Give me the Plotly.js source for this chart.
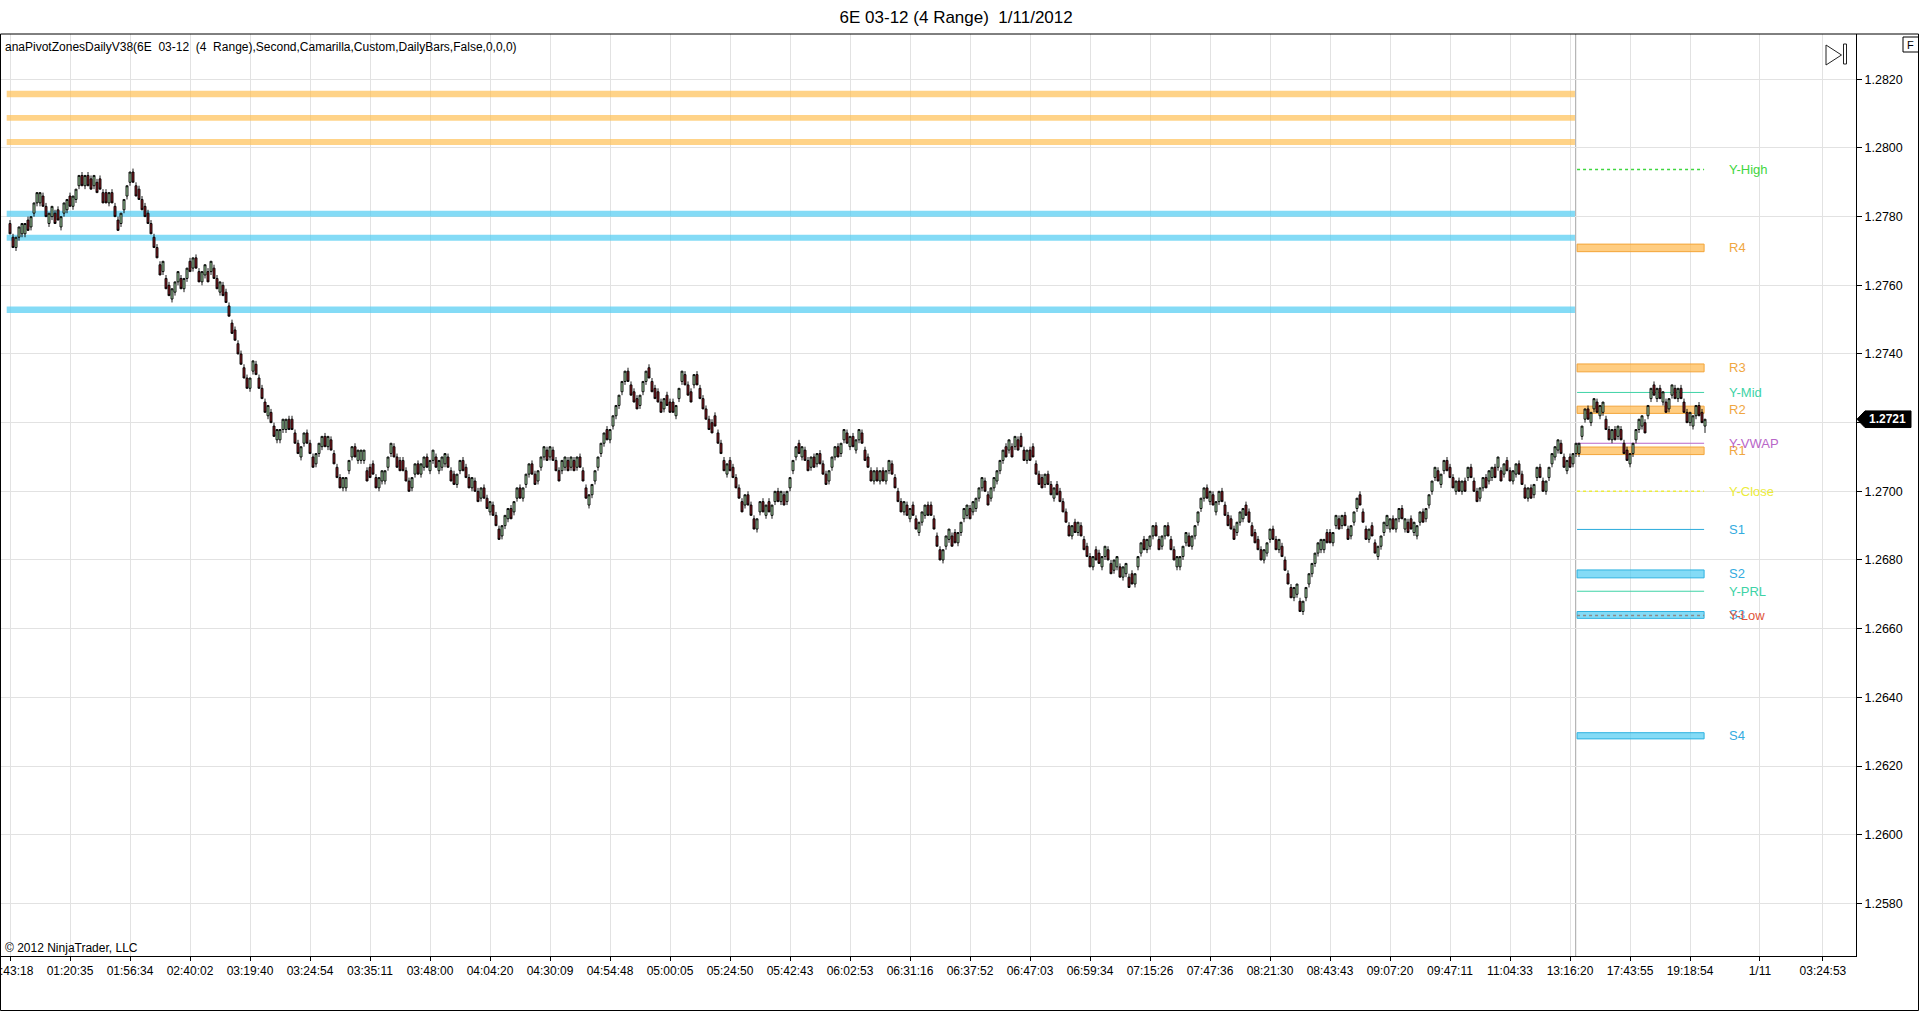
<!DOCTYPE html>
<html>
<head>
<meta charset="utf-8">
<script src="https://cdn.plot.ly/plotly-3.0.1.min.js"></script>
<style>
html,body{margin:0;padding:0;background:#fff;}
#chart{width:1920px;height:1012px;}
</style>
</head>
<body>
<div id="chart"></div>
<script>
// ---------- DATA (prices in pips above 1.2000, i.e. price = 1.2 + v/10000) ----------
const PIP_BASE = 1.2;
const PIP = 0.0001;

const opens = [
778,774,771,774,775,775,779,777,781,784,
784,786,783,778,780,781,782,777,781,782,
786,783,785,789,792,789,792,791,789,790,
791,787,787,784,787,783,779,778,782,786,
790,793,789,788,785,783,781,778,774,771,
766,764,762,760,756,758,761,762,759,762,
767,765,768,764,761,763,764,764,765,762,
758,760,758,754,749,747,743,740,736,733,
730,735,737,733,730,726,722,723,719,715,
715,718,718,721,721,717,714,710,714,717,
714,710,708,711,713,716,713,715,711,707,
704,701,701,706,710,713,709,709,709,706,
707,708,704,701,703,703,707,711,713,710,
709,709,706,703,701,705,708,705,707,710,
706,709,710,706,707,708,710,706,705,702,
706,709,707,704,701,703,700,698,701,698,
694,696,693,689,687,690,692,695,694,698,
701,698,702,705,708,705,703,707,710,712,
710,712,709,706,706,707,709,707,709,707,
710,706,701,696,699,703,707,711,714,718,
715,719,722,725,729,732,735,731,729,727,
725,729,732,736,732,730,729,726,724,728,
726,726,722,727,732,734,731,729,731,734,
730,727,724,721,720,722,717,714,709,705,
709,707,704,701,697,696,699,696,692,689,
694,697,693,697,693,697,700,697,699,697,
701,706,710,714,710,712,709,707,710,708,
711,708,705,703,707,710,713,711,715,717,
713,716,712,715,717,712,710,706,703,706,
703,706,703,706,708,704,700,697,694,696,
692,696,692,688,691,693,696,696,692,687,
683,680,684,686,687,688,685,688,692,693,
695,694,695,698,701,703,699,698,701,703,
706,709,713,712,713,713,715,716,712,709,
712,713,708,705,704,702,705,702,698,702,
700,697,694,690,687,691,688,690,686,684,
681,678,683,682,678,681,683,679,677,678,
678,675,676,675,676,673,678,682,686,683,
684,687,690,686,684,687,690,686,683,678,
678,681,685,687,684,687,691,695,698,701,
697,699,694,697,700,696,693,692,689,688,
691,692,696,694,690,688,686,683,680,682,
686,689,686,683,684,680,676,672,669,670,
668,665,669,673,676,679,682,683,683,688,
688,685,690,692,690,693,689,687,691,695,
699,694,689,686,690,685,681,684,688,690,
689,692,689,692,695,689,691,692,688,687,
691,694,692,696,700,704,706,702,706,709,
707,704,700,703,700,703,704,707,703,700,
698,701,704,703,704,707,707,706,705,709,
706,703,705,708,705,701,698,701,699,704,
707,703,700,704,708,710,712,714,710,706,
710,708,711,711,716,721,724,720,724,726,
722,723,721,718,715,718,716,718,714,712,
708,711,715,718,719,720,722,727,731,727,
730,726,726,724,728,730,727,730,726,723,
720,719,722,725,723,719
];

const highs = [
779,775,774,777,778,778,780,780,784,787,
787,787,784,781,783,782,783,780,784,785,
787,786,788,792,793,792,793,792,792,791,
792,788,788,787,788,784,780,781,785,789,
793,794,790,789,786,784,782,779,775,772,
767,767,763,761,759,761,764,763,762,765,
768,768,769,765,764,766,765,767,766,763,
761,761,759,755,750,748,744,741,737,734,
733,738,738,734,731,727,725,724,720,718,
718,721,721,722,722,718,715,713,717,718,
715,711,711,714,716,717,716,716,712,708,
705,704,704,709,713,714,712,712,712,707,
708,709,705,704,706,706,710,714,714,711,
710,710,707,704,704,708,709,708,710,711,
709,712,711,709,710,711,711,707,706,705,
709,710,708,705,704,704,701,701,702,699,
697,697,694,690,690,693,695,696,697,701,
702,701,705,708,709,706,706,710,713,713,
713,713,710,707,709,710,710,710,710,710,
711,707,702,699,702,706,710,714,717,719,
718,722,725,728,732,735,736,732,730,728,
728,732,735,737,733,731,730,727,727,729,
727,727,725,730,735,735,732,730,734,735,
731,728,725,722,721,723,718,715,710,708,
710,708,705,702,698,699,700,697,693,692,
697,698,696,698,696,700,701,700,700,700,
704,709,713,715,713,713,710,710,711,711,
712,709,706,706,710,713,714,714,718,718,
716,717,715,718,718,713,711,707,706,707,
706,707,706,709,709,705,701,698,697,697,
695,697,693,691,694,696,697,697,693,688,
684,683,687,689,688,689,688,691,695,696,
696,697,698,701,704,704,700,701,704,706,
709,712,714,715,714,716,716,717,713,712,
713,714,709,706,705,705,706,703,701,703,
701,698,695,691,690,692,691,691,687,685,
682,681,684,683,681,684,684,680,680,681,
679,678,679,676,677,676,681,685,687,686,
687,690,691,687,687,690,691,687,684,681,
681,684,688,688,687,690,694,698,701,702,
700,700,697,700,701,697,694,693,690,691,
694,695,697,695,691,689,687,684,683,685,
689,690,687,686,685,681,677,673,672,673,
669,668,672,676,679,682,685,686,686,689,
689,688,693,693,693,694,690,690,694,698,
700,695,690,689,691,686,684,687,691,693,
692,693,692,695,696,692,692,693,691,690,
694,695,695,699,703,707,707,705,709,710,
708,705,703,704,703,704,707,708,704,701,
701,704,705,706,707,708,710,707,708,710,
707,706,708,709,706,702,701,702,702,707,
708,704,703,707,711,713,715,715,711,709,
711,711,714,714,719,724,725,723,727,727,
725,726,722,719,718,719,719,719,715,713,
711,714,718,721,722,721,725,730,732,730,
731,729,727,727,731,731,730,731,727,724,
723,722,725,726,724,721
];

const lows = [
775,771,770,773,774,774,776,776,780,783,
783,783,780,777,779,778,779,776,780,781,
783,782,784,788,789,788,789,788,788,787,
788,784,784,783,784,780,776,777,781,785,
789,790,786,785,782,780,778,775,771,768,
763,763,759,757,755,757,760,759,758,761,
764,764,765,761,760,762,761,763,762,759,
757,757,755,751,746,744,740,737,733,730,
729,734,734,730,727,723,721,720,716,714,
714,717,717,718,718,714,711,709,713,714,
711,707,707,710,712,713,712,712,708,704,
701,700,700,705,709,710,708,708,708,703,
704,705,701,700,702,702,706,710,710,707,
706,706,703,700,700,704,705,704,706,707,
705,708,707,705,706,707,707,703,702,701,
705,706,704,701,700,700,697,697,698,695,
693,693,690,686,686,689,691,692,693,697,
698,697,701,704,705,702,702,706,709,709,
709,709,706,703,705,706,706,706,706,706,
707,703,698,695,698,702,706,710,713,715,
714,718,721,724,728,731,732,728,726,724,
724,728,731,733,729,727,726,723,723,725,
723,723,721,726,731,731,728,726,730,731,
727,724,721,718,717,719,714,711,706,704,
706,704,701,698,694,695,696,693,689,688,
693,694,692,694,692,696,697,696,696,696,
700,705,709,711,709,709,706,706,707,707,
708,705,702,702,706,709,710,710,714,714,
712,713,711,714,714,709,707,703,702,703,
702,703,702,705,705,701,697,694,693,693,
691,693,689,687,690,692,693,693,689,684,
680,679,683,685,684,685,684,687,691,692,
692,693,694,697,700,700,696,697,700,702,
705,708,710,711,710,712,712,713,709,708,
709,710,705,702,701,701,702,699,697,699,
697,694,691,687,686,688,687,687,683,681,
678,677,680,679,677,680,680,676,676,677,
675,674,675,672,673,672,677,681,683,682,
683,686,687,683,683,686,687,683,680,677,
677,680,684,684,683,686,690,694,697,698,
696,696,693,696,697,693,690,689,686,687,
690,691,693,691,687,685,683,680,679,681,
685,686,683,682,681,677,673,669,668,669,
665,664,668,672,675,678,681,682,682,685,
685,684,689,689,689,690,686,686,690,694,
696,691,686,685,687,682,680,683,687,689,
688,689,688,691,692,688,688,689,687,686,
690,691,691,695,699,703,703,701,705,706,
704,701,699,700,699,700,703,704,700,697,
697,700,701,702,703,704,706,703,704,706,
703,702,704,705,702,698,697,698,698,703,
704,700,699,703,707,709,711,711,707,705,
707,707,710,710,715,720,721,719,723,723,
721,722,718,715,714,715,715,715,711,709,
707,710,714,717,718,717,721,726,728,726,
727,725,723,723,727,727,726,727,723,720,
719,718,721,722,720,717
];

const closes = [
775,771,774,777,778,778,776,780,784,787,
787,783,780,781,783,778,779,780,784,785,
783,786,788,792,789,792,789,788,792,787,
788,784,784,787,784,780,776,781,785,789,
793,790,786,785,782,780,778,775,771,768,
763,767,759,757,759,761,764,759,762,765,
764,768,765,761,764,766,761,767,762,759,
761,757,755,751,746,744,740,737,733,730,
733,738,734,730,727,723,725,720,716,718,
718,721,721,718,718,714,711,713,717,714,
711,707,711,714,716,713,716,712,708,704,
701,704,704,709,713,710,712,712,712,703,
704,705,701,704,706,706,710,714,710,707,
706,706,703,700,704,708,705,708,710,707,
709,712,707,709,710,711,707,703,702,705,
709,706,704,701,704,700,697,701,698,695,
697,693,690,686,690,693,695,692,697,701,
698,701,705,708,705,702,706,710,713,709,
713,709,706,703,709,710,706,710,706,710,
707,703,698,699,702,706,710,714,717,715,
718,722,725,728,732,735,732,728,726,724,
728,732,735,733,729,727,726,723,727,725,
723,723,725,730,735,731,728,726,734,731,
727,724,721,718,717,719,714,711,706,708,
706,704,701,698,694,699,696,693,689,692,
697,694,696,694,696,700,697,700,696,700,
704,709,713,711,713,709,706,710,707,711,
708,705,702,706,710,713,710,714,718,714,
716,713,715,718,714,709,707,703,706,703,
706,703,706,709,705,701,697,694,697,693,
695,693,689,691,694,696,693,693,689,684,
680,683,687,689,684,685,688,691,695,696,
692,697,698,701,704,700,696,701,704,706,
709,712,710,715,710,716,712,713,709,712,
709,710,705,702,701,705,702,699,701,699,
697,694,691,687,690,688,691,687,683,681,
678,681,680,679,681,684,680,676,680,681,
675,678,679,672,673,676,681,685,683,686,
687,690,687,683,687,690,687,683,680,681,
681,684,688,684,687,690,694,698,701,698,
700,696,697,700,697,693,690,689,686,691,
694,695,693,691,687,685,683,680,683,685,
689,686,683,686,681,677,673,669,672,673,
665,668,672,676,679,682,685,686,686,685,
685,688,693,689,693,690,686,690,694,698,
696,691,686,689,687,682,684,687,691,693,
692,689,692,695,692,692,688,689,691,690,
694,691,695,699,703,707,703,705,709,706,
704,701,703,700,703,700,707,704,700,697,
701,704,701,706,707,704,710,703,708,706,
703,706,708,705,702,698,701,698,702,707,
704,700,703,707,711,713,715,711,707,709,
707,711,714,714,719,724,721,723,727,723,
725,726,718,715,718,715,719,715,711,709,
711,714,718,721,722,717,725,730,728,730,
727,729,723,727,731,727,730,727,723,720,
723,722,725,722,720,721
];

// first bar of the new (1/11) session
const sessionStart = 522;

// x-axis tick labels (bar index -> time label)
const tickBars = [0,20,40,60,80,100,120,140,160,180,200,220,240,260,280,300,320,340,360,380,400,420,440,460,480,500,520,540,560,583.3,604.3];
const tickLabels = ['00:43:18','01:20:35','01:56:34','02:40:02','03:19:40','03:24:54','03:35:11','03:48:00','04:04:20','04:30:09','04:54:48','05:00:05','05:24:50','05:42:43','06:02:53','06:31:16','06:37:52','06:47:03','06:59:34','07:15:26','07:47:36','08:21:30','08:43:43','09:07:20','09:47:11','11:04:33','13:16:20','17:43:55','19:18:54','1/11','03:24:53'];

// previous-session pivot zones
const prevResLow  = [1.28148, 1.28079, 1.28009];
const prevResHigh = [1.28167, 1.28096, 1.28026];
const prevSupLow  = [1.27800, 1.27730, 1.27519];
const prevSupHigh = [1.27817, 1.27747, 1.27538];

// current-session zones
const zoneNames = ['R4','R3','R2','R1','S2','S3','S4'];
const zoneLow   = [1.27698, 1.27348, 1.27227, 1.27107, 1.26748, 1.26630, 1.26279];
const zoneHigh  = [1.27720, 1.27371, 1.27248, 1.27129, 1.26771, 1.26650, 1.26297];

// current-session single levels
const lineNames  = ['Y-High','Y-Mid','Y-VWAP','Y-Close','S1','Y-PRL','Y-Low'];
const lineValues = [1.27937, 1.27288, 1.27140, 1.27000, 1.26889, 1.26709, 1.26638];

// ---------- STYLES ----------
const FONT = 'Liberation Sans, Arial, sans-serif';
const lineStyle = {
  'Y-High':  {color:'#3fd63f', dash:'dot',   width:1.5, text:'#3fd63f'},
  'Y-Mid':   {color:'#3ed3a6', dash:'solid', width:1,   text:'#3ed3a6'},
  'Y-VWAP':  {color:'#b866c8', dash:'solid', width:1,   text:'#b866c8'},
  'Y-Close': {color:'#ecec3a', dash:'dot',   width:1.5, text:'#ecec3a'},
  'S1':      {color:'#2aabdc', dash:'solid', width:1,   text:'#34acdf'},
  'Y-PRL':   {color:'#3ed3a6', dash:'solid', width:1,   text:'#3ed3a6'},
  'Y-Low':   {color:'#8a8a8a', dash:'dot',   width:1.5, text:'#e0553a'}
};
const resZone = {fill:'rgba(255,186,80,0.72)', line:'#f3a53a', text:'#f0a742'};
const supZone = {fill:'rgba(84,205,242,0.72)', line:'#2eb2e0', text:'#34acdf'};

// ---------- BUILD ----------
const toPrice = v => +(PIP_BASE + v * PIP).toFixed(4);
const xIdx = opens.map((_, i) => i);
const lastIdx = xIdx.length - 1;
const lastClose = toPrice(closes[lastIdx]);

const trace = {
  type: 'candlestick',
  x: xIdx,
  open: opens.map(toPrice),
  high: highs.map(toPrice),
  low: lows.map(toPrice),
  close: closes.map(toPrice),
  increasing: {fillcolor:'#a9dca9', line:{color:'#000000', width:0.9}},
  decreasing: {fillcolor:'#8c1c24', line:{color:'#000000', width:0.9}},
  whiskerwidth: 0,
  hoverinfo: 'skip',
  showlegend: false
};

const shapes = [];
const annotations = [];

// previous session bands
const prevX0 = -1.1, prevX1 = sessionStart - 0.35;
prevResLow.forEach((lo, i) => shapes.push({type:'rect', xref:'x', yref:'y', x0:prevX0, x1:prevX1, y0:lo, y1:prevResHigh[i], fillcolor:'rgba(255,190,80,0.68)', line:{width:0}, layer:'between'}));
prevSupLow.forEach((lo, i) => shapes.push({type:'rect', xref:'x', yref:'y', x0:prevX0, x1:prevX1, y0:lo, y1:prevSupHigh[i], fillcolor:'rgba(84,205,242,0.72)', line:{width:0}, layer:'between'}));

// session separator
shapes.push({type:'line', xref:'x', yref:'paper', x0:sessionStart - 0.1, x1:sessionStart - 0.1, y0:0, y1:1, line:{color:'#a6a6a6', width:1}, layer:'between'});

// current session zones + levels
const curX0 = sessionStart + 0.35, curX1 = lastIdx - 0.3, labelX = lastIdx + 7.2;
zoneNames.forEach((nm, i) => {
  const st = nm[0] === 'R' ? resZone : supZone;
  shapes.push({type:'rect', xref:'x', yref:'y', x0:curX0, x1:curX1, y0:zoneLow[i], y1:zoneHigh[i], fillcolor:st.fill, line:{color:st.line, width:1}, layer:'between'});
  annotations.push({xref:'x', yref:'y', x:labelX, y:(zoneLow[i] + zoneHigh[i]) / 2, text:nm, showarrow:false, xanchor:'left', yanchor:'middle', font:{family:FONT, size:13, color:st.text}});
});
lineNames.forEach((nm, i) => {
  const st = lineStyle[nm];
  shapes.push({type:'line', xref:'x', yref:'y', x0:curX0, x1:curX1, y0:lineValues[i], y1:lineValues[i], line:{color:st.color, width:st.width, dash:st.dash}, layer:'between'});
  annotations.push({xref:'x', yref:'y', x:labelX, y:lineValues[i], text:nm, showarrow:false, xanchor:'left', yanchor:'middle', font:{family:FONT, size:13, color:st.text}});
});

// ---------- CHROME (pixel geometry -> paper coords) ----------
const W = 1920, H = 1012, ML = 0, MR = 64, MT = 34, MB = 56;
const PW = W - ML - MR, PH = H - MT - MB;
const px = v => (v - ML) / PW;
const py = v => (H - MB - v) / PH;

// outer frame
shapes.push({type:'rect', xref:'paper', yref:'paper', x0:px(0.5), x1:px(1918.5), y0:py(1010.5), y1:py(34), line:{color:'#000', width:1}, fillcolor:'rgba(0,0,0,0)', layer:'above'});
// F box
shapes.push({type:'rect', xref:'paper', yref:'paper', x0:px(1903), x1:px(1918.5), y0:py(52), y1:py(37), line:{color:'#000', width:1}, layer:'above'});
annotations.push({xref:'paper', yref:'paper', x:px(1910.7), y:py(44.5), text:'F', showarrow:false, xanchor:'center', yanchor:'middle', font:{family:FONT, size:11, color:'#000'}});
// play-to-end icon
shapes.push({type:'path', xref:'paper', yref:'paper', path:`M ${px(1826)} ${py(45)} L ${px(1841.5)} ${py(55)} L ${px(1826)} ${py(65)} Z`, line:{color:'#222', width:1}, fillcolor:'rgba(0,0,0,0)', layer:'above'});
shapes.push({type:'rect', xref:'paper', yref:'paper', x0:px(1843.5), x1:px(1846.5), y0:py(64), y1:py(44), line:{color:'#222', width:1}, layer:'above'});

// last price marker
const hh = 8.3 / (PH / (1.2833194 - 1.2564663));
shapes.push({type:'path', xref:'paper', yref:'y', path:`M ${px(1857)},${lastClose} L ${px(1865)},${lastClose + hh} L ${px(1911)},${lastClose + hh} L ${px(1911)},${lastClose - hh} L ${px(1865)},${lastClose - hh} Z`, fillcolor:'#000', line:{color:'#000', width:1}, layer:'above'});
annotations.push({xref:'paper', yref:'y', x:px(1888), y:lastClose, text:lastClose.toFixed(4), showarrow:false, xanchor:'center', yanchor:'middle', font:{family:FONT, size:12, color:'#fff', weight:'bold'}});

// indicator caption and copyright
annotations.push({xref:'paper', yref:'paper', x:px(3), y:py(47.5), text:'anaPivotZonesDailyV38(6E\u00a0 03-12\u00a0 (4\u00a0 Range),Second,Camarilla,Custom,DailyBars,False,0,0,0)', showarrow:false, xanchor:'left', yanchor:'middle', font:{family:FONT, size:12, color:'#000'}});
annotations.push({xref:'paper', yref:'paper', x:px(3), y:py(948), text:'\u00a9 2012 NinjaTrader, LLC', showarrow:false, xanchor:'left', yanchor:'middle', font:{family:FONT, size:12, color:'#000'}});

const layout = {
  width: W, height: H,
  margin: {l:ML, r:MR, t:MT, b:MB, pad:0},
  paper_bgcolor: '#fff', plot_bgcolor: '#fff',
  font: {family: FONT, size: 12, color: '#000'},
  title: {text:'6E 03-12 (4 Range)\u00a0 1/11/2012', font:{family:FONT, size:17, color:'#000'}, xref:'container', x:0.498, xanchor:'center', yref:'container', y:1 - 17/H, yanchor:'middle'},
  boxgap: 0.05,
  showlegend: false,
  xaxis: {
    type:'linear', range:[-10/3, (PW - 10)/3], fixedrange:true,
    rangeslider:{visible:false},
    tickmode:'array', tickvals:tickBars, ticktext:tickLabels,
    ticklabeloverflow:'allow',
    showgrid:true, gridcolor:'#e2e2e2', gridwidth:1, zeroline:false,
    showline:true, linecolor:'#000', linewidth:1, mirror:false,
    ticks:'outside', ticklen:4, tickcolor:'#000', tickwidth:1,
    tickfont:{family:FONT, size:12, color:'#000'}
  },
  yaxis: {
    side:'right', range:[1.2564663, 1.2833194], fixedrange:true,
    dtick:0.002, tick0:1.2580, tickformat:'.4f',
    showgrid:true, gridcolor:'#e2e2e2', gridwidth:1, zeroline:false,
    showline:true, linecolor:'#000', linewidth:1,
    ticks:'outside', ticklen:5, tickcolor:'#000', tickwidth:1,
    tickfont:{family:FONT, size:12.5, color:'#000'}
  },
  shapes: shapes,
  annotations: annotations
};

Plotly.newPlot('chart', [trace], layout, {displayModeBar:false, staticPlot:true});
</script>
</body>
</html>
